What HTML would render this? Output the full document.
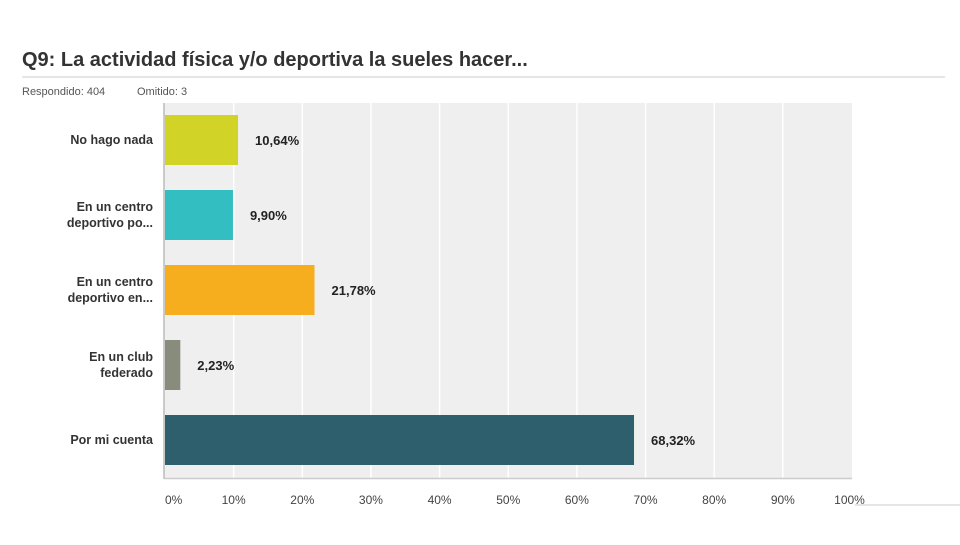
<!DOCTYPE html>
<html><head><meta charset="utf-8"><style>
body{margin:0;background:#fff;width:960px;height:540px;overflow:hidden;font-family:"Liberation Sans",Arial,sans-serif}
</style></head><body>
<svg width="960" height="540" xmlns="http://www.w3.org/2000/svg">
<text x="22" y="66" font-size="20" font-weight="bold" fill="#333">Q9: La actividad física y/o deportiva la sueles hacer...</text>
<line x1="22" y1="77" x2="945" y2="77" stroke="#ccc"/>
<text x="22" y="95" font-size="11" fill="#555">Respondido: 404</text>
<text x="137" y="95" font-size="11" fill="#555">Omitido: 3</text>
<rect x="164" y="103" width="688" height="375" fill="#efefef"/>
<g id="grid"></g><g id="bars"></g><g id="ticks"></g>
<line x1="164" y1="103" x2="164" y2="479" stroke="#bbb" stroke-width="1.5"/>
<line x1="164" y1="478.5" x2="852" y2="478.5" stroke="#ccc" stroke-width="1.5"/>
<line x1="855" y1="505" x2="960" y2="505" stroke="#ccc"/>
</svg>
<script>
const categories=[["No hago nada"],["En un centro","deportivo po..."],["En un centro","deportivo en..."],["En un club","federado"],["Por mi cuenta"]];
const values=[10.64,9.90,21.78,2.23,68.32];
const labels=["10,64%","9,90%","21,78%","2,23%","68,32%"];
const colors=["#d1d426","#33bfc1","#f6ae1f","#888c7c","#2e5f6c"];
const ticks=[0,10,20,30,40,50,60,70,80,90,100];
const NS="http://www.w3.org/2000/svg";
const x=v=>165+v*6.865;
const yc=i=>140+i*75;
function mk(t,a,p){const e=document.createElementNS(NS,t);for(const k in a)e.setAttribute(k,a[k]);p.appendChild(e);return e;}
const grid=document.getElementById('grid'),bars=document.getElementById('bars'),tk=document.getElementById('ticks');
ticks.forEach(t=>{
 if(t>0&&t<100){const l=mk('line',{x1:x(t),x2:x(t),y1:103,y2:478,stroke:'#fff','stroke-width':1.5},grid);
 
 }
 const tx=mk('text',{x:x(t)+(t==100?-2:0),y:504,'font-size':12,fill:'#444','text-anchor':t==0?'start':'middle'},tk);
 tx.textContent=t+'%';
 
 
});
values.forEach((v,i)=>{
 const r=mk('rect',{x:165,y:yc(i)-25,width:x(v)-165,height:50,fill:colors[i]},bars);
 
 
 const t=mk('text',{x:x(v)+17,y:yc(i)+5,'font-size':13,'font-weight':'bold',fill:'#222'},bars);
 t.textContent=labels[i];
 
 
 const lines=categories[i];
 lines.forEach((s,j)=>{
  const c=mk('text',{x:153,y:yc(i)+4+(j-(lines.length-1)/2)*16,'font-size':12.5,'font-weight':'bold',fill:'#333','text-anchor':'end'},bars);
  c.textContent=s;
  
  
 });
});
</script>
</body></html>
